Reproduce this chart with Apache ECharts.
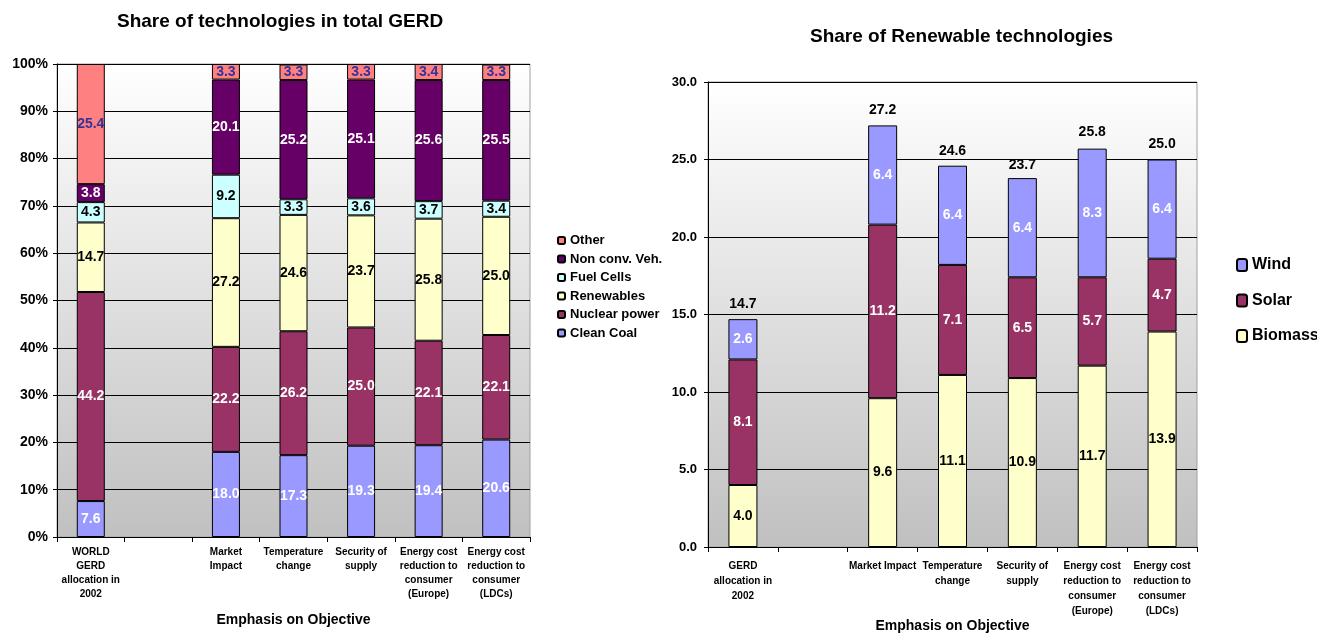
<!DOCTYPE html>
<html>
<head>
<meta charset="utf-8">
<script src="https://cdn.jsdelivr.net/npm/echarts@6/dist/echarts.min.js"></script>
<style>
  html, body { margin: 0; padding: 0; background: #fff; }
  #chart { width: 1317px; height: 635px; }
</style>
</head>
<body>
<div id="chart"></div>
<script>
// ---- Share of technologies in total GERD (percent) ----
const gerdCategories = [
  'WORLD\nGERD\nallocation in\n2002', '', 'Market\nImpact', 'Temperature\nchange',
  'Security of\nsupply', 'Energy cost\nreduction to\nconsumer\n(Europe)', 'Energy cost\nreduction to\nconsumer\n(LDCs)'
];
const cleanCoal    = [7.6, '-', 18.0, 17.3, 19.3, 19.4, 20.6];
const nuclearPower = [44.2, '-', 22.2, 26.2, 25.0, 22.1, 22.1];
const renewables   = [14.7, '-', 27.2, 24.6, 23.7, 25.8, 25.0];
const fuelCells    = [4.3, '-', 9.2, 3.3, 3.6, 3.7, 3.4];
const nonConvVeh   = [3.8, '-', 20.1, 25.2, 25.1, 25.6, 25.5];
const other        = [25.4, '-', 3.3, 3.3, 3.3, 3.4, 3.3];

// ---- Share of Renewable technologies ----
const renCategories = [
  'GERD\nallocation in\n2002', '', 'Market Impact', 'Temperature\nchange',
  'Security of\nsupply', 'Energy cost\nreduction to\nconsumer\n(Europe)', 'Energy cost\nreduction to\nconsumer\n(LDCs)'
];
const biomass = [4.0, '-', 9.6, 11.1, 10.9, 11.7, 13.9];
const solar   = [8.1, '-', 11.2, 7.1, 6.5, 5.7, 4.7];
const wind    = [2.6, '-', 6.4, 6.4, 6.4, 8.3, 6.4];
const renTotals = [14.7, '-', 27.2, 24.6, 23.7, 25.8, 25.0];

const FONT = 'Liberation Sans, Arial, sans-serif';

const plotBg = {
  type: 'linear', x: 0, y: 0, x2: 0, y2: 1,
  colorStops: [{ offset: 0, color: '#ffffff' }, { offset: 1, color: '#c0c0c0' }]
};

function fmt1(p) { return Number(p.value).toFixed(1); }

function stackBar(name, data, color, labelColor, axisIdx, stack, width) {
  return {
    name, type: 'bar', stack, data,
    xAxisIndex: axisIdx, yAxisIndex: axisIdx,
    barWidth: width,
    itemStyle: { color, borderColor: '#000', borderWidth: 1 },
    label: {
      show: true, position: 'inside', formatter: fmt1,
      color: labelColor, fontFamily: FONT, fontWeight: 'bold', fontSize: 14
    },
    emphasis: { disabled: true }
  };
}

function catAxis(gridIndex, data, margin, lineHeight, nameGap) {
  return {
    type: 'category', gridIndex, data,
    axisLine: { lineStyle: { color: '#000', width: 1 } },
    axisTick: { show: true, length: 5, lineStyle: { color: '#000' } },
    axisLabel: { interval: 0, margin, fontFamily: FONT, fontWeight: 'bold',
      fontSize: 10, lineHeight, color: '#000' },
    name: 'Emphasis on Objective', nameLocation: 'middle', nameGap,
    nameMoveOverlap: false,
    nameTextStyle: { fontFamily: FONT, fontWeight: 'bold', fontSize: 14, color: '#000' }
  };
}

const chart = echarts.init(document.getElementById('chart'), null, { renderer: 'canvas' });

chart.setOption({
  animation: false,
  backgroundColor: '#fff',
  title: [
    { text: 'Share of technologies in total GERD', left: 112, top: 7,
      textStyle: { fontFamily: FONT, fontWeight: 'bold', fontSize: 19, color: '#000' } },
    { text: 'Share of Renewable technologies', left: 805, top: 22,
      textStyle: { fontFamily: FONT, fontWeight: 'bold', fontSize: 19, color: '#000' } }
  ],
  legend: [
    {
      data: ['Other', 'Non conv. Veh.', 'Fuel Cells', 'Renewables', 'Nuclear power', 'Clean Coal'],
      orient: 'vertical', left: 557, top: 234, padding: 0,
      itemWidth: 7, itemHeight: 7, itemGap: 5.5,
      textStyle: { fontFamily: FONT, fontWeight: 'bold', fontSize: 13, color: '#000' },
      selectedMode: false
    },
    {
      data: ['Wind', 'Solar', 'Biomass'],
      orient: 'vertical', left: 1236, top: 257, padding: 0,
      itemWidth: 10, itemHeight: 12, itemGap: 19.5,
      textStyle: { fontFamily: FONT, fontWeight: 'bold', fontSize: 16, color: '#000' },
      selectedMode: false
    }
  ],
  grid: [
    { left: 57, top: 64, width: 473, height: 473, show: true, outerBoundsMode: 'none',
      backgroundColor: plotBg, borderColor: '#a0a0a0', borderWidth: 1 },
    { left: 708, top: 82, width: 489, height: 465, show: true, outerBoundsMode: 'none',
      backgroundColor: plotBg, borderColor: '#a0a0a0', borderWidth: 1 }
  ],
  xAxis: [
    catAxis(0, gerdCategories, 8, 14, 76),
    catAxis(1, renCategories, 12, 15, 72)
  ],
  yAxis: [
    {
      type: 'value', gridIndex: 0, min: 0, max: 100, interval: 10,
      axisLine: { show: true, lineStyle: { color: '#000' } },
      axisTick: { show: true, length: 4, lineStyle: { color: '#000' } },
      axisLabel: { formatter: '{value}%', margin: 9, fontFamily: FONT, fontWeight: 'bold',
        fontSize: 14, color: '#000' },
      splitLine: { show: true, lineStyle: { color: '#000', width: 1 } }
    },
    {
      type: 'value', gridIndex: 1, min: 0, max: 30, interval: 5,
      axisLine: { show: true, lineStyle: { color: '#000' } },
      axisTick: { show: true, length: 4, lineStyle: { color: '#000' } },
      axisLabel: { formatter: v => v.toFixed(1), margin: 11, fontFamily: FONT, fontWeight: 'bold',
        fontSize: 13, color: '#000' },
      splitLine: { show: true, lineStyle: { color: '#000', width: 1 } }
    }
  ],
  series: [
    stackBar('Clean Coal', cleanCoal, '#9999FF', '#fff', 0, 'gerd', 28),
    stackBar('Nuclear power', nuclearPower, '#993366', '#fff', 0, 'gerd', 28),
    stackBar('Renewables', renewables, '#FFFFCC', '#000', 0, 'gerd', 28),
    stackBar('Fuel Cells', fuelCells, '#CCFFFF', '#000', 0, 'gerd', 28),
    stackBar('Non conv. Veh.', nonConvVeh, '#660066', '#fff', 0, 'gerd', 28),
    stackBar('Other', other, '#FF8080', '#333399', 0, 'gerd', 28),

    stackBar('Biomass', biomass, '#FFFFCC', '#000', 1, 'ren', 29),
    stackBar('Solar', solar, '#993366', '#fff', 1, 'ren', 29),
    stackBar('Wind', wind, '#9999FF', '#fff', 1, 'ren', 29),
    // column totals, written just above each stack
    {
      name: 'Total', type: 'line', data: renTotals,
      xAxisIndex: 1, yAxisIndex: 1,
      symbol: 'circle', symbolSize: 2, showSymbol: true,
      itemStyle: { color: 'rgba(0,0,0,0)' },
      lineStyle: { width: 0, color: 'rgba(0,0,0,0)' },
      label: { show: true, position: 'top', distance: 7, formatter: fmt1,
        fontFamily: FONT, fontWeight: 'bold', fontSize: 14, color: '#000' },
      z: 5, emphasis: { disabled: true }
    }
  ]
});
</script>
</body>
</html>
